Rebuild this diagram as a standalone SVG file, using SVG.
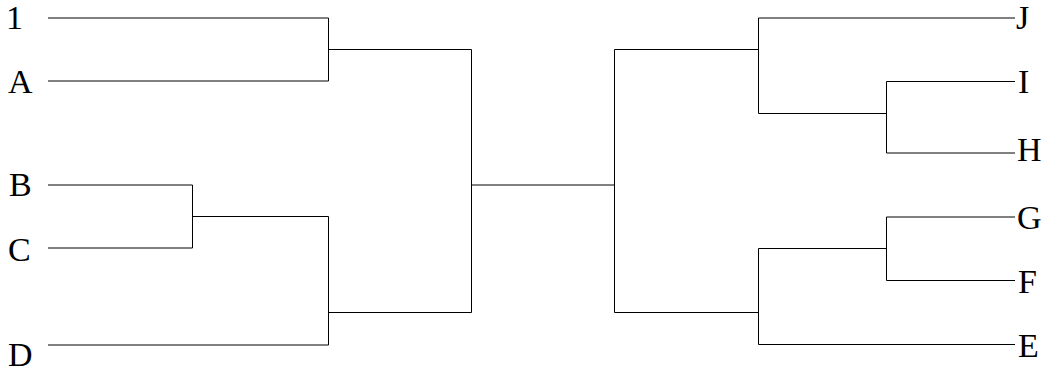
<svg xmlns="http://www.w3.org/2000/svg" width="1053" height="375" viewBox="0 0 1053 375">
<style>
.lbl{font-family:"Liberation Serif","Times New Roman",serif;font-size:34px;fill:#000}
.ln{fill:none;stroke:#000;stroke-width:1}
</style>
<rect width="1053" height="375" fill="#fff"/>
<g id="connectors">
<path class="ln" d="M48 18H328.5M48 81H328.5M328.5 18V81M328.5 49.5H471.5"/>
<path class="ln" d="M48 185H192.5M48 248H192.5M192.5 185V248M192.5 216.5H328.5"/>
<path class="ln" d="M48 345H328.5M328.5 216.5V345M328.5 312.5H471.5"/>
<path class="ln" d="M471.5 49.5V312.5M471.5 185H614.5M614.5 49.5V312.5"/>
<path class="ln" d="M614.5 49.5H758.5M758.5 18V113.5M758.5 18H1015M758.5 113.5H886.5M886.5 81.5V153M886.5 81.5H1015M886.5 153H1015"/>
<path class="ln" d="M614.5 312.5H758.5M758.5 248.5V344.5M758.5 344.5H1015M758.5 248.5H886.5M886.5 217V280.5M886.5 217H1015M886.5 280.5H1015"/>
</g>
<g id="node-1"><text class="lbl" x="6" y="29">1</text></g>
<g id="node-A"><text class="lbl" x="8" y="93">A</text></g>
<g id="node-B"><text class="lbl" x="9" y="196">B</text></g>
<g id="node-C"><text class="lbl" x="8" y="261">C</text></g>
<g id="node-D"><text class="lbl" x="8" y="366">D</text></g>
<g id="node-J"><text class="lbl" x="1016" y="29">J</text></g>
<g id="node-I"><text class="lbl" x="1018" y="93">I</text></g>
<g id="node-H"><text class="lbl" x="1017" y="161">H</text></g>
<g id="node-G"><text class="lbl" x="1017" y="229">G</text></g>
<g id="node-F"><text class="lbl" x="1018" y="293">F</text></g>
<g id="node-E"><text class="lbl" x="1018" y="357">E</text></g>
</svg>
